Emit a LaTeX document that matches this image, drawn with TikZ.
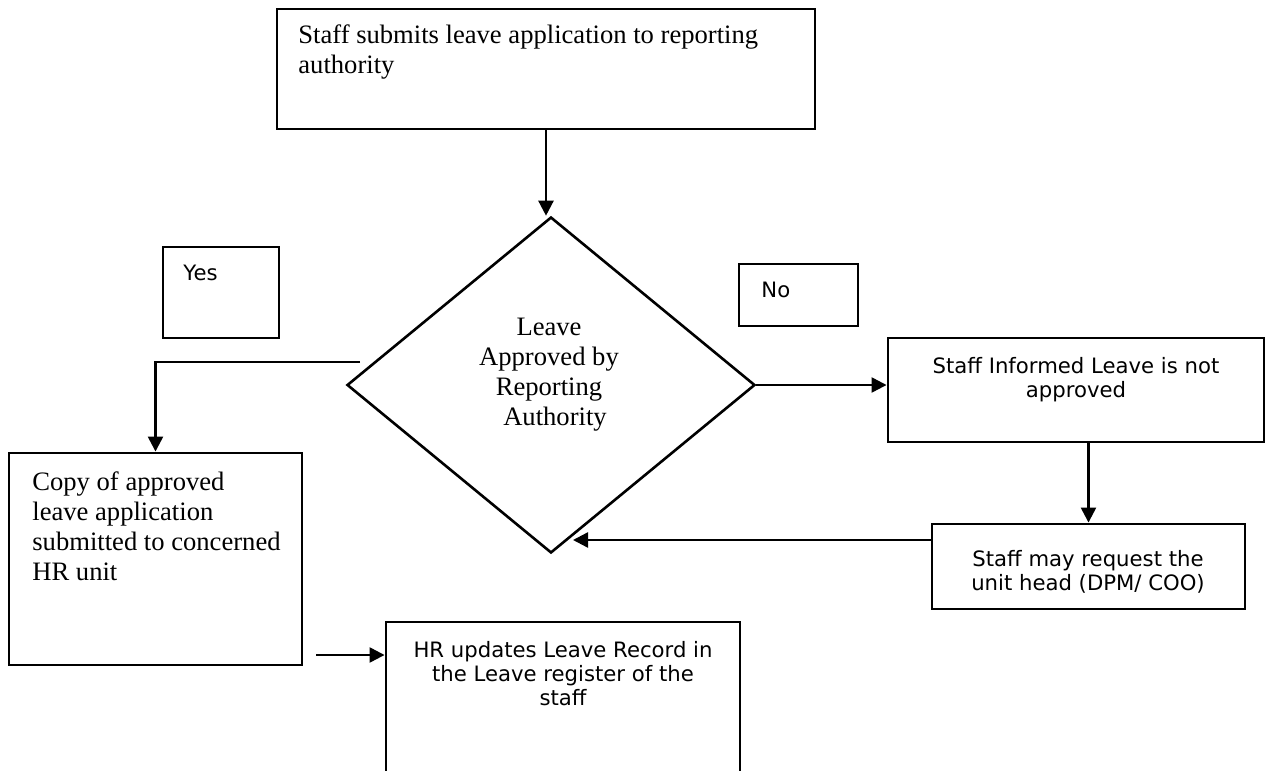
\documentclass[tikz,border=0pt]{standalone}
\usepackage{fontspec}
\setmainfont{Liberation Serif}
\newfontfamily\vsans{DejaVu Sans}
\usetikzlibrary{shapes.geometric,arrows.meta,fit}

\begin{document}
\begin{tikzpicture}[x=0.5pt,y=-0.5pt,
  frame/.style={draw, line width=1.45pt, inner sep=0pt},
  serif/.style={font=\fontsize{13.3}{15}\selectfont, inner sep=0pt, align=left},
  sans/.style={font=\vsans\fontsize{10.6}{12}\selectfont, inner sep=0pt, align=center},
  arr/.style={line width=1.2pt, -{Triangle[length=7.5pt,width=7.5pt]}}]
\clip (0,0) rectangle (1271,771);
\fill[white] (0,0) rectangle (1271,771);

% process boxes
\node[frame, fit={(277,9) (815,129)}] (top) {};
\node[serif, anchor=north west] (toptext) at (298,24)
  {Staff submits leave application to reporting\\authority};

\node[draw, diamond, line width=1.3pt, minimum width=204pt, minimum height=168pt,
      inner sep=0pt] (dia) at (551,385) {};
\node[serif, align=center, anchor=north] (diatext) at (549,318)
  {Leave\\Approved by\\Reporting\\\hspace*{0.45em}Authority};

\node[frame, fit={(163,247) (279,338)}] (yes) {};
\node[sans, anchor=base west] (yestext) at (183,280) {Yes};

\node[frame, fit={(739,264) (858,326)}] (no) {};
\node[sans, anchor=base west] (notext) at (761,297) {No};

\node[frame, fit={(9,453) (302,665)}] (copy) {};
\node[serif, anchor=north west] (copytext) at (32,471)
  {Copy of approved\\leave application\\submitted to concerned\\HR unit};

\node[frame, fit={(888,338) (1264,442)}] (inf) {};
\node[sans, anchor=north] (inftext) at (1076,357)
  {Staff Informed Leave is not\\approved};

\node[frame, fit={(932,524) (1245,609)}] (req) {};
\node[sans, anchor=north] (reqtext) at (1088,550)
  {Staff may request the\\unit head (DPM/ COO)};

\node[frame, fit={(386,622) (740,800)}] (hr) {};
\node[sans, anchor=north] (hrtext) at (563,641)
  {HR updates Leave Record in\\the Leave register of the\\staff};

% connectors
\coordinate (ystart) at (360,362);
\coordinate (backend) at (573,540);
\coordinate (hrstart) at (316,655);

\draw[arr] (top.south) -- (top.south |- dia.north);
\draw[arr] (ystart) -| (copy.north);
\draw[arr] (dia.east) -- (dia.east -| inf.west);
\draw[arr] (inf.south -| req.north) -- (req.north);
\draw[arr] (req.west |- backend) -- (backend);
\draw[arr] (hrstart) -- (hrstart -| hr.west);
\end{tikzpicture}
\end{document}
